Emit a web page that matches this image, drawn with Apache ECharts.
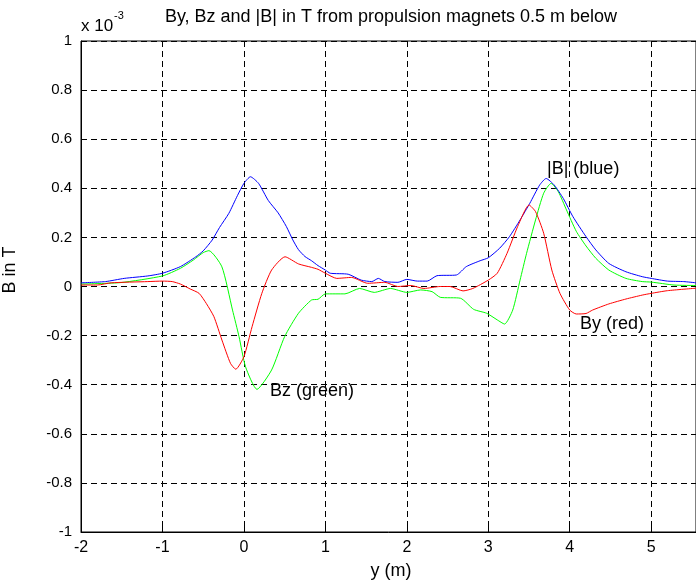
<!DOCTYPE html>
<html>
<head>
<meta charset="utf-8">
<script src="https://cdn.jsdelivr.net/npm/echarts@6/dist/echarts.min.js"></script>
<style>
  html, body { margin: 0; padding: 0; background: #fff; }
  #chart { width: 696px; height: 586px; }
</style>
</head>
<body>
<div id="chart"></div>
<script>
// data in units of 1e-3 T, positions y in metres
const xTicks = [-2, -1, 0, 1, 2, 3, 4, 5];
const yTicks = [-1, -0.8, -0.6, -0.4, -0.2, 0, 0.2, 0.4, 0.6, 0.8, 1];

const bAbsX = [-2, -1.7, -1.47, -1.18, -1.0, -0.78, -0.59, -0.5, -0.39, -0.3, -0.185, -0.08, 0, 0.08, 0.18, 0.3, 0.42, 0.52, 0.6, 0.67, 0.75, 0.83, 0.91, 1.0, 1.06, 1.28, 1.44, 1.57, 1.65, 1.73, 1.89, 2.0, 2.13, 2.25, 2.37, 2.61, 2.73, 2.9, 3.0, 3.14, 3.26, 3.39, 3.51, 3.63, 3.71, 3.81, 3.92, 4.04, 4.2, 4.32, 4.48, 4.69, 4.89, 5.0, 5.2, 5.4, 5.55];
const bAbsY = [0.015, 0.02, 0.033, 0.043, 0.054, 0.081, 0.121, 0.145, 0.189, 0.24, 0.298, 0.37, 0.42, 0.447, 0.42, 0.35, 0.3, 0.245, 0.19, 0.15, 0.122, 0.105, 0.085, 0.067, 0.054, 0.05, 0.026, 0.02, 0.033, 0.02, 0.017, 0.029, 0.022, 0.022, 0.044, 0.047, 0.081, 0.105, 0.117, 0.156, 0.203, 0.271, 0.339, 0.413, 0.44, 0.413, 0.359, 0.284, 0.203, 0.149, 0.094, 0.06, 0.04, 0.033, 0.022, 0.02, 0.015];

const bzX = [-2, -1.51, -1.0, -0.78, -0.62, -0.5, -0.43, -0.27, -0.14, -0.06, 0.02, 0.16, 0.34, 0.5, 0.67, 0.83, 0.91, 1.0, 1.24, 1.42, 1.6, 1.8, 2.0, 2.17, 2.31, 2.41, 2.66, 2.82, 2.98, 3.11, 3.2, 3.3, 3.39, 3.47, 3.58, 3.68, 3.77, 3.86, 3.96, 4.08, 4.2, 4.32, 4.48, 4.69, 4.89, 5.0, 5.28, 5.55];
const bzY = [0.01, 0.016, 0.043, 0.074, 0.108, 0.138, 0.146, 0.08, -0.096, -0.204, -0.327, -0.419, -0.34, -0.204, -0.109, -0.055, -0.052, -0.03, -0.03, -0.008, -0.024, -0.008, -0.024, -0.014, -0.021, -0.044, -0.048, -0.093, -0.109, -0.136, -0.153, -0.096, 0.026, 0.135, 0.271, 0.38, 0.42, 0.386, 0.312, 0.225, 0.165, 0.115, 0.067, 0.033, 0.02, 0.018, 0.006, 0.004];

const byX = [-2, -1.8, -1.63, -1.18, -1.0, -0.88, -0.78, -0.66, -0.55, -0.46, -0.368, -0.27, -0.165, -0.1, 0, 0.1, 0.22, 0.34, 0.505, 0.67, 0.83, 0.91, 1.0, 1.14, 1.32, 1.52, 1.73, 1.89, 2.05, 2.21, 2.41, 2.53, 2.69, 2.81, 3.0, 3.11, 3.23, 3.36, 3.5, 3.58, 3.68, 3.78, 3.88, 4.0, 4.08, 4.2, 4.28, 4.48, 4.69, 4.89, 5.0, 5.2, 5.55];
const byY = [0.006, 0.006, 0.015, 0.02, 0.022, 0.02, 0.01, -0.01, -0.028, -0.07, -0.123, -0.218, -0.313, -0.337, -0.286, -0.164, -0.028, 0.067, 0.121, 0.092, 0.078, 0.07, 0.054, 0.033, 0.037, 0.013, 0.017, 0, 0.004, -0.008, 0, 0, -0.018, -0.008, 0.026, 0.054, 0.135, 0.244, 0.332, 0.305, 0.217, 0.067, -0.028, -0.096, -0.112, -0.11, -0.096, -0.071, -0.051, -0.035, -0.028, -0.017, -0.007];

const zip = (xs, ys) => xs.map((x, i) => [x, ys[i]]);

const font = 'Liberation Sans, Arial, sans-serif';
const myChart = echarts.init(document.getElementById('chart'));
const option = {
  animation: false,
  backgroundColor: '#fff',
  textStyle: { fontFamily: font },
  grid: {
    left: 81,
    top: 41,
    right: -5,
    bottom: 54,
    show: true,
    borderColor: '#000',
    borderWidth: 1,
    backgroundColor: 'transparent'
  },
  xAxis: {
    type: 'value',
    min: -2,
    max: 5.55,
    interval: 1,
    axisLine: { show: true, onZero: false, lineStyle: { color: '#000' } },
    axisTick: { show: true, inside: true, length: 5, lineStyle: { color: '#000' } },
    axisLabel: {
      color: '#000', fontSize: 16, fontFamily: font, margin: 8,
      showMaxLabel: false,
      formatter: v => (xTicks.indexOf(v) >= 0 ? String(v) : '')
    },
    splitLine: { show: true, lineStyle: { color: '#000', type: [6, 4], width: 1 } }
  },
  yAxis: {
    type: 'value',
    min: -1,
    max: 1,
    interval: 0.2,
    axisLine: { show: true, onZero: false, lineStyle: { color: '#000' } },
    axisTick: { show: true, inside: true, length: 5, lineStyle: { color: '#000' } },
    axisLabel: {
      color: '#000', fontSize: 15, fontFamily: font, margin: 9,
      formatter: v => {
        const t = yTicks.find(k => Math.abs(k - v) < 1e-9);
        return t === undefined ? '' : String(Math.round(t * 10) / 10);
      }
    },
    splitLine: { show: true, lineStyle: { color: '#000', type: [6, 4], width: 1 } }
  },
  series: [{
    name: '|B|',
    type: 'line',
    data: zip(bAbsX, bAbsY),
    showSymbol: false,
    smooth: 0.2,
    lineStyle: { color: '#0000ff', width: 1 },
    z: 3
  }, {
    name: 'Bz',
    type: 'line',
    data: zip(bzX, bzY),
    showSymbol: false,
    smooth: 0.2,
    lineStyle: { color: '#00ff00', width: 1 },
    z: 2
  }, {
    name: 'By',
    type: 'line',
    data: zip(byX, byY),
    showSymbol: false,
    smooth: 0.2,
    lineStyle: { color: '#ff0000', width: 1 },
    z: 4
  }],
  graphic: [
    { type: 'text', x: 391, y: 8, style: { text: 'By, Bz and |B| in T from propulsion magnets 0.5 m below', font: '18px ' + font, fill: '#000', textAlign: 'center' } },
    { type: 'text', x: 81, y: 18, style: { text: 'x 10', font: '17px ' + font, fill: '#000' } },
    { type: 'text', x: 114, y: 10, style: { text: '-3', font: '11px ' + font, fill: '#000' } },
    { type: 'text', x: 391, y: 562, style: { text: 'y (m)', font: '18px ' + font, fill: '#000', textAlign: 'center' } },
    { type: 'text', x: 10, y: 270, rotation: Math.PI / 2, style: { text: 'B in T', font: '18px ' + font, fill: '#000', textAlign: 'center', textVerticalAlign: 'middle' } },
    { type: 'text', x: 547, y: 160, style: { text: '|B| (blue)', font: '18px ' + font, fill: '#000' } },
    { type: 'text', x: 580, y: 315, style: { text: 'By (red)', font: '18px ' + font, fill: '#000' } },
    { type: 'text', x: 270, y: 382, style: { text: 'Bz (green)', font: '18px ' + font, fill: '#000' } }
  ]
};
myChart.setOption(option);
window.onresize = () => { myChart.resize(); };
</script>
</body>
</html>
